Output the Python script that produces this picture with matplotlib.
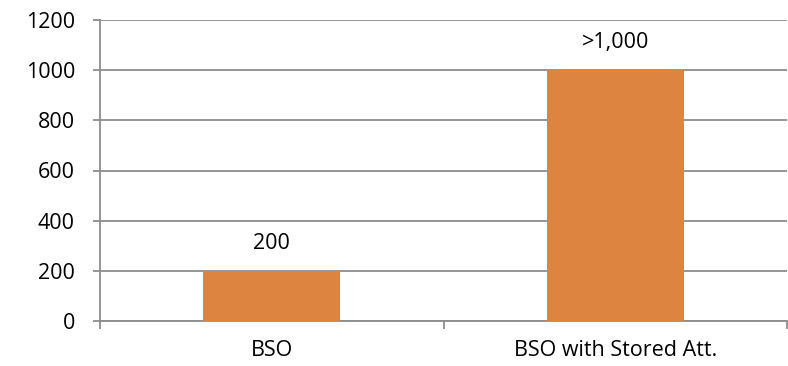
import matplotlib
matplotlib.use("Agg")
import matplotlib.pyplot as plt
import numpy as np

categories = ["BSO", "BSO with Stored Att."]
values = [200, 1000]
value_labels = ["200", ">1,000"]
y_ticks = [0, 200, 400, 600, 800, 1000, 1200]

plt.rcParams["font.family"] = ["Open Sans", "DejaVu Sans"]

fig = plt.figure(figsize=(7.88, 3.66), dpi=100)
ax = fig.add_axes([100 / 788, 1 - 321 / 366, 687 / 788, 301 / 366])

grid_color = "#8c8c8c"
bar_color = "#DC8440"
fs = 15.5

x = np.arange(len(categories))
ax.bar(x, values, width=0.4, color=bar_color, zorder=3)

for xi, v, lab in zip(x, values, value_labels):
    ax.annotate(lab, (xi, v), xytext=(0, 20), textcoords="offset points",
                ha="center", va="center", fontsize=fs, color="black")

ax.set_xlim(-0.5, len(categories) - 0.5)
ax.set_ylim(0, 1200)
ax.set_yticks(y_ticks)
ax.set_yticklabels([str(t) for t in y_ticks], fontsize=fs)
ax.yaxis.grid(True, color=grid_color, linewidth=1.3, zorder=0)
ax.set_axisbelow(True)

# category labels sit between the boundary tick marks
ax.set_xticks(x)
ax.set_xticklabels(categories, fontsize=fs)
ax.tick_params(axis="x", length=0, pad=14)
ax.set_xticks(np.arange(-0.5, len(categories)), minor=True)
ax.tick_params(axis="x", which="minor", length=6, width=1.3, color=grid_color, direction="out")
ax.tick_params(axis="y", length=5, width=1.3, color=grid_color, direction="out", pad=13)

for side in ["top", "right"]:
    ax.spines[side].set_visible(False)
for side in ["left", "bottom"]:
    ax.spines[side].set_color(grid_color)
    ax.spines[side].set_linewidth(1.3)

fig.savefig("out.png", dpi=100)
